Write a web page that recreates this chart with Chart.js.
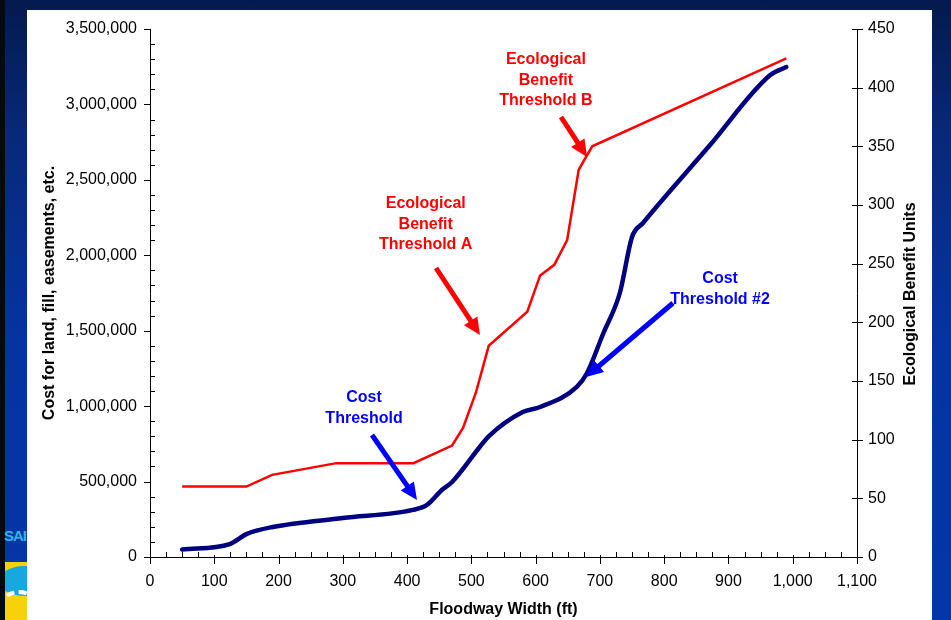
<!DOCTYPE html>
<html><head><meta charset="utf-8">
<script src="https://cdn.jsdelivr.net/npm/chart.js@4.4.1/dist/chart.umd.min.js"></script>
<style>
html,body{margin:0;padding:0;width:951px;height:620px;overflow:hidden;}
body{position:relative;background:linear-gradient(180deg,#041a4e 0%,#08297a 22%,#0434a2 55%,#0336a8 100%);}
#edge{position:absolute;left:0;top:0;width:5px;height:620px;background:#06090f;}
#logoText{position:absolute;left:4px;top:527px;font:bold 15px "Liberation Sans",Arial,sans-serif;color:#36b4e6;letter-spacing:-1px;}
#logoY{position:absolute;left:5px;top:562px;width:22px;height:58px;background:#f7d10a;overflow:hidden;}
#logoC{position:absolute;left:-6px;top:4px;width:50px;height:30px;border-radius:50%;background:#18a8e0;}
#logoW{position:absolute;left:-10px;top:28px;width:40px;height:40px;border-radius:50%;border:4px dashed #fff;}
#panel{position:absolute;left:27px;top:10px;width:905px;height:610px;background:#fff;}
canvas{position:absolute;left:0;top:0;}
</style>
</head><body>
<div id="edge"></div>
<div id="logoText">SAI</div>
<div id="logoY"><div id="logoC"></div><div id="logoW"></div></div>
<div id="panel"></div>
<canvas id="c" width="951" height="620"></canvas>
<script>
// ---- data ----
const floodwayWidthEco = [50,150,190,290,410,470,487,507,527,587,607,629,649,667,688,990];
const ecoBenefitUnits  = [60,60,70,80,80,95,110,140,180,209,240,249,270,330,350,425];
const floodwayWidthCost = [50,124,150,191,300,409,431,454,470,513,527,580,607,664,680,705,731,750,767,870,965,990];
const costDollars = [50000,86000,152000,199000,258000,312000,345000,444000,497000,729000,800000,961000,994000,1127000,1220000,1480000,1750000,2121000,2214000,2724000,3195000,3248000];
const xTitle = 'Floodway Width (ft)';
const yLeftTitle = 'Cost for land, fill, easements, etc.';
const yRightTitle = 'Ecological Benefit Units';
const noteTexts = [
  ['Ecological','Benefit','Threshold B'],
  ['Ecological','Benefit','Threshold A'],
  ['Cost','Threshold'],
  ['Cost','Threshold #2']
];
// annotation anchors in data units (x: ft, y: left-axis $)
const noteAnchors = [
  {x:616, y:3294500, tail:[639.5,2916700], tip:[680,2651500]},
  {x:429, y:2340000, tail:[445,1915700], tip:[513.4,1471600]},
  {x:333, y:1054000, tail:[345.4,808700], tip:[415.4,377800]},
  {x:887, y:1842800, tail:[813.7,1683700], tip:[678.4,1193200]}
];
const noteColors = ['#ff0000','#ff0000','#0000ff','#0000ff'];

const FONT = '"Liberation Sans", Arial, sans-serif';
Chart.defaults.font.family = FONT;
Chart.defaults.color = '#000';
const fmt = v => Number(v).toLocaleString('en-US');

const tickPlugin = {
  id:'ticks',
  afterDraw(chart){
    const ctx = chart.ctx, x = chart.scales.x, y = chart.scales.y, y2 = chart.scales.y2;
    const ca = chart.chartArea;
    ctx.save();
    ctx.strokeStyle = '#000'; ctx.lineWidth = 1;
    ctx.beginPath();
    for (let v = 0; v <= 3500000; v += 100000) {
      const p = Math.round(y.getPixelForValue(v)) + 0.5;
      if (v % 500000 === 0) { ctx.moveTo(ca.left - 6, p); ctx.lineTo(ca.left, p); }
      else { ctx.moveTo(ca.left, p); ctx.lineTo(ca.left + 5, p); }
    }
    for (let v = 0; v <= 450; v += 50) {
      const p = Math.round(y2.getPixelForValue(v)) + 0.5;
      ctx.moveTo(ca.right - 5, p); ctx.lineTo(ca.right + 6, p);
    }
    for (let v = 0; v <= 1100; v += 25) {
      const p = Math.round(x.getPixelForValue(v)) + 0.5;
      if (v % 100 === 0) { ctx.moveTo(p, ca.bottom - 2); ctx.lineTo(p, ca.bottom + 7); }
      else { ctx.moveTo(p, ca.bottom - 5); ctx.lineTo(p, ca.bottom); }
    }
    ctx.stroke();
    // right axis title, reading bottom-to-top
    ctx.save();
    ctx.translate(911, (ca.top + ca.bottom) / 2 + 1);
    ctx.rotate(-Math.PI / 2);
    ctx.font = 'bold 16px ' + FONT;
    ctx.fillStyle = '#000'; ctx.textAlign = 'center'; ctx.textBaseline = 'middle';
    ctx.fillText(yRightTitle, 0, 0);
    ctx.restore();
    ctx.restore();
  }
};

const notePlugin = {
  id:'notes',
  afterDraw(chart){
    const ctx = chart.ctx, x = chart.scales.x, y = chart.scales.y;
    ctx.save();
    noteAnchors.forEach((a, i) => {
      const col = noteColors[i];
      ctx.fillStyle = col; ctx.strokeStyle = col;
      ctx.font = 'bold 16px ' + FONT;
      ctx.textAlign = 'center'; ctx.textBaseline = 'middle';
      const cx = x.getPixelForValue(a.x), cy = y.getPixelForValue(a.y);
      noteTexts[i].forEach((t, k) => ctx.fillText(t, cx, cy + k * 20.3));
      const tx = x.getPixelForValue(a.tail[0]), ty = y.getPixelForValue(a.tail[1]);
      const hx = x.getPixelForValue(a.tip[0]), hy = y.getPixelForValue(a.tip[1]);
      const ang = Math.atan2(hy - ty, hx - tx);
      const L = 17, W = 8;
      const bx = hx - L * Math.cos(ang), by = hy - L * Math.sin(ang);
      ctx.lineWidth = 5; ctx.lineCap = 'butt';
      ctx.beginPath(); ctx.moveTo(tx, ty); ctx.lineTo(bx + 2*Math.cos(ang), by + 2*Math.sin(ang)); ctx.stroke();
      ctx.beginPath();
      ctx.moveTo(hx, hy);
      ctx.lineTo(bx + W * Math.sin(ang), by - W * Math.cos(ang));
      ctx.lineTo(bx - W * Math.sin(ang), by + W * Math.cos(ang));
      ctx.closePath(); ctx.fill();
    });
    ctx.restore();
  }
};

new Chart(document.getElementById('c'), {
  type:'line',
  data:{
    datasets:[
      {
        label:'Ecological Benefit Units',
        data: floodwayWidthEco.map((w, i) => ({x:w, y:ecoBenefitUnits[i]})),
        yAxisID:'y2', borderColor:'#ff0000', borderWidth:2.5, pointRadius:0, tension:0, fill:false
      },
      {
        label:'Cost',
        data: floodwayWidthCost.map((w, i) => ({x:w, y:costDollars[i]})),
        yAxisID:'y', borderColor:'#000080', borderWidth:4.5, pointRadius:0,
        cubicInterpolationMode:'monotone', fill:false, borderCapStyle:'round', borderJoinStyle:'round'
      }
    ]
  },
  options:{
    responsive:false, animation:false,
    layout:{padding:{left:27, right:19, top:29, bottom:0}},
    plugins:{legend:{display:false}, tooltip:{enabled:false}},
    scales:{
      x:{
        type:'linear', position:'bottom', min:0, max:1100,
        ticks:{stepSize:100, callback:v => fmt(v), font:{size:16}, color:'#000', padding:7, maxRotation:0},
        grid:{display:false}, border:{display:true, color:'#000', width:1},
        title:{display:true, text:xTitle, font:{size:16, weight:'bold'}, color:'#000', padding:{top:2, bottom:1}},
        afterFit(s){ s.height = 63; }
      },
      y:{
        type:'linear', position:'left', min:0, max:3500000,
        ticks:{stepSize:500000, callback:v => fmt(v), font:{size:16}, color:'#000', padding:5},
        grid:{display:false}, border:{display:true, color:'#000', width:1},
        title:{display:true, text:yLeftTitle, font:{size:16, weight:'bold'}, color:'#000', padding:{top:13, bottom:11}},
        afterFit(s){ s.width = 123; }
      },
      y2:{
        type:'linear', position:'right', min:0, max:450,
        ticks:{stepSize:50, callback:v => fmt(v), font:{size:16}, color:'#000', padding:3},
        grid:{display:false}, border:{display:true, color:'#000', width:1},
        title:{display:false},
        afterFit(s){ s.width = 75; }
      }
    }
  },
  plugins:[tickPlugin, notePlugin]
});
</script>
</body></html>
